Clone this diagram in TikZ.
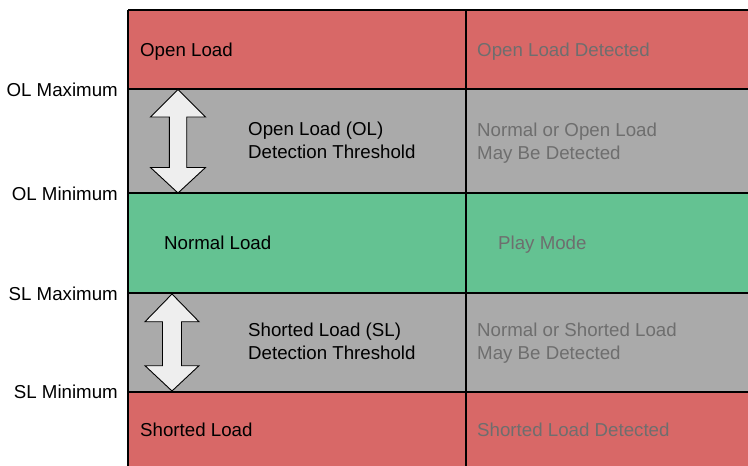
\documentclass[tikz,border=0pt]{standalone}
\usepackage{fontspec}
\setmainfont{Liberation Sans}
\definecolor{loadred}{RGB}{216,104,103}
\definecolor{loadgray}{RGB}{170,170,170}
\definecolor{loadgreen}{RGB}{100,194,146}
\definecolor{dimtext}{RGB}{110,110,110}
\definecolor{arrowfill}{RGB}{238,238,238}
\begin{document}
\begin{tikzpicture}[x=1pt,y=-1pt,
  lbl/.style={font=\fontsize{18.7}{23}\selectfont,inner sep=0pt,text=black},
  celltxt/.style={lbl,anchor=base west},
  dimtxt/.style={lbl,anchor=base west,text=dimtext},
  sidetxt/.style={lbl,anchor=base east},
  gridline/.style={line width=1.6pt,black},
  dblarrow/.style={draw=black,line width=0.9pt,fill=arrowfill,line join=miter}]
\useasboundingbox (0,0) rectangle (748,466);
% bands
\fill[loadred]   (128,10)  rectangle (748,89);
\fill[loadgray]  (128,89)  rectangle (748,193);
\fill[loadgreen] (128,193) rectangle (748,293);
\fill[loadgray]  (128,293) rectangle (748,392);
\fill[loadred]   (128,392) rectangle (748,466);
% grid
\draw[gridline] (128,10) -- (748,10);
\draw[gridline] (128,89) -- (748,89);
\draw[gridline] (128,193) -- (748,193);
\draw[gridline] (128,293) -- (748,293);
\draw[gridline] (128,392) -- (748,392);
\draw[gridline] (128,10) -- (128,466);
\draw[gridline] (466,10) -- (466,466);
% arrows
\draw[dblarrow] (178,89.5) -- (205.5,117) -- (186.7,117) -- (186.7,167.5) -- (205.5,167.5)
  -- (178,193) -- (150.5,167.5) -- (169.3,167.5) -- (169.3,117) -- (150.5,117) -- cycle;
\draw[dblarrow] (172,294) -- (199,321.7) -- (181.5,321.7) -- (181.5,365.7) -- (199,365.7)
  -- (172,391) -- (145,365.7) -- (162.5,365.7) -- (162.5,321.7) -- (145,321.7) -- cycle;
% side labels
\node[sidetxt] (olmax) at (118,96) {OL Maximum};
\node[sidetxt] (olmin) at (118,200) {OL Minimum};
\node[sidetxt] (slmax) at (118,300) {SL Maximum};
\node[sidetxt] (slmin) at (118,398) {SL Minimum};
% left column
\node[celltxt] (open) at (140,56) {Open Load};
\node[celltxt] (olthA) at (248,135.5) {Open Load (OL)};
\node[celltxt] (olthB) at (248,158.5) {Detection Threshold};
\node[celltxt] (normal) at (164,249.5) {Normal Load};
\node[celltxt] (slthA) at (248,336.5) {Shorted Load (SL)};
\node[celltxt] (slthB) at (248,359.5) {Detection Threshold};
\node[celltxt] (short) at (140,436) {Shorted Load};
% right column
\node[dimtxt] (opendet) at (477,56) {Open Load Detected};
\node[dimtxt] (olmayA) at (477,136) {Normal or Open Load};
\node[dimtxt] (olmayB) at (477,159) {May Be Detected};
\node[dimtxt] (play) at (498,249.5) {Play Mode};
\node[dimtxt] (slmayA) at (477,336.5) {Normal or Shorted Load};
\node[dimtxt] (slmayB) at (477,359.5) {May Be Detected};
\node[dimtxt] (shortdet) at (477,436) {Shorted Load Detected};
\end{tikzpicture}
\end{document}
